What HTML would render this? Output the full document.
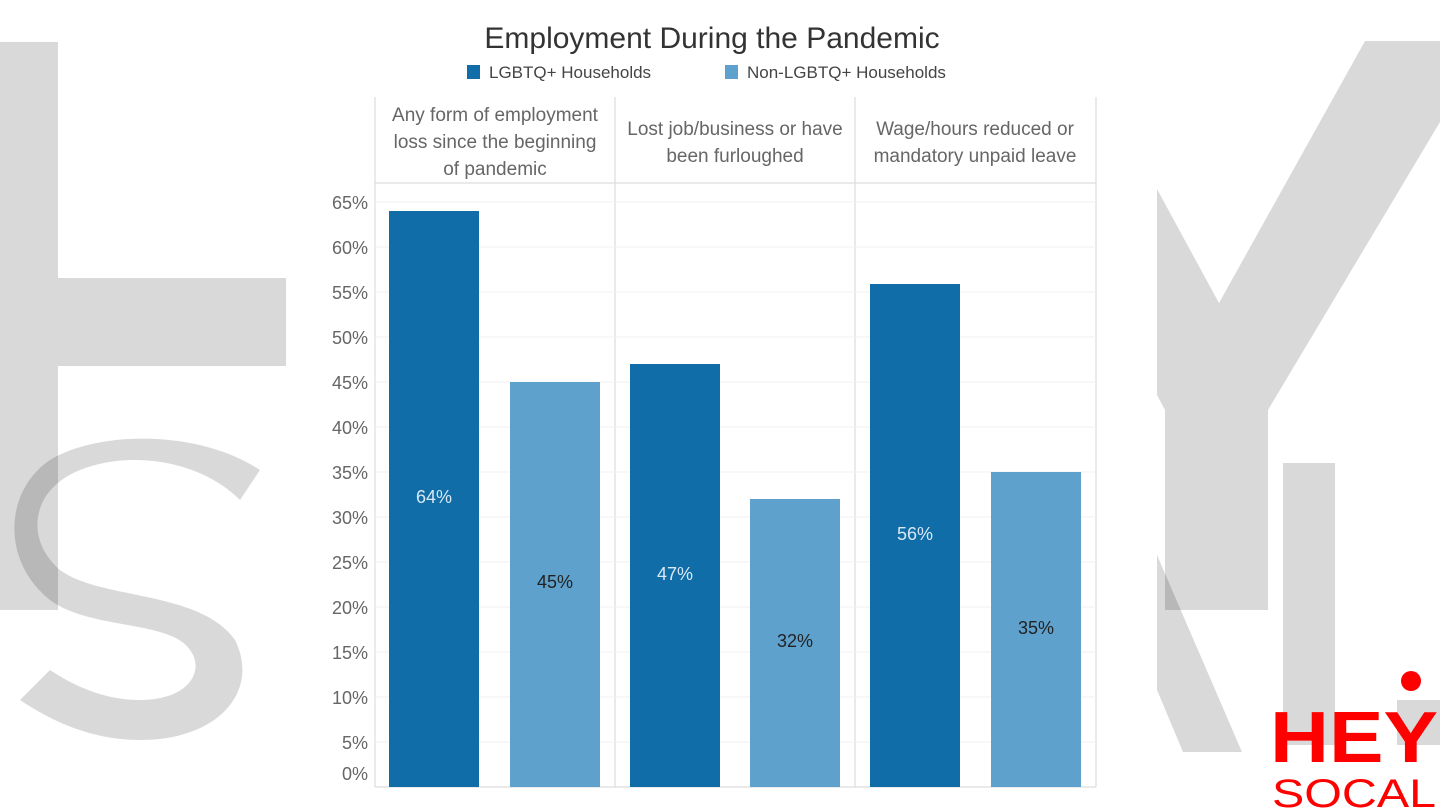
<!DOCTYPE html>
<html><head><meta charset="utf-8"><style>
html,body{margin:0;padding:0;background:#fff;}
svg{display:block;font-family:"Liberation Sans",sans-serif;}
</style></head><body>
<svg width="1440" height="810" viewBox="0 0 1440 810" xmlns="http://www.w3.org/2000/svg">
<rect width="1440" height="810" fill="#fff"/>
<!-- watermark shapes -->
<g fill="#000" fill-opacity="0.15">
<path d="M0 42 L58 42 L58 278 L288 278 L288 366 L58 366 L58 610 L0 610 Z"/>
<path d="M240 500 C200 460 130 450 80 470 C30 490 25 540 60 570 C100 600 200 590 235 640 C260 690 220 740 140 740 C90 740 50 720 20 700 L50 670 C80 690 110 700 140 700 C190 700 205 670 190 650 C170 620 90 630 50 600 C0 560 5 490 50 460 C100 430 200 430 260 470 Z"/>
<path d="M1365 41 L1440 41 L1440 122 L1268 410 L1268 610 L1165 610 L1165 410 L1157 395 L1157 189 L1219 303 Z"/>
<rect x="1283" y="463" width="52" height="282"/>
<path d="M1157 555 L1242 752 L1183 752 L1157 690 Z"/>
<rect x="1397" y="700" width="43" height="45"/>
</g>
<rect x="286" y="0" width="868" height="810" fill="#fff"/>
<!-- title & legend -->
<text x="712" y="48" font-size="30" fill="#333" text-anchor="middle">Employment During the Pandemic</text>
<rect x="467" y="65" width="13" height="14" fill="#116DA8"/>
<text x="489" y="78" font-size="17" fill="#444">LGBTQ+ Households</text>
<rect x="725" y="65" width="13" height="14" fill="#5EA1CD"/>
<text x="747" y="78" font-size="17" fill="#444">Non-LGBTQ+ Households</text>
<!-- headers -->
<g stroke="#ddd" stroke-width="1.2">
<line x1="375" y1="97" x2="375" y2="787"/>
<line x1="615" y1="97" x2="615" y2="787"/>
<line x1="855" y1="97" x2="855" y2="787"/>
<line x1="1096" y1="97" x2="1096" y2="787"/>
<line x1="375" y1="183" x2="1096" y2="183"/>
<line x1="375" y1="787" x2="1096" y2="787"/>
</g>
<g stroke="#f0f0f0" stroke-width="1">
<line x1="375" y1="202" x2="1096" y2="202"/><line x1="375" y1="247" x2="1096" y2="247"/>
<line x1="375" y1="292" x2="1096" y2="292"/><line x1="375" y1="337" x2="1096" y2="337"/>
<line x1="375" y1="382" x2="1096" y2="382"/><line x1="375" y1="427" x2="1096" y2="427"/>
<line x1="375" y1="472" x2="1096" y2="472"/><line x1="375" y1="517" x2="1096" y2="517"/>
<line x1="375" y1="562" x2="1096" y2="562"/><line x1="375" y1="607" x2="1096" y2="607"/>
<line x1="375" y1="652" x2="1096" y2="652"/><line x1="375" y1="697" x2="1096" y2="697"/>
<line x1="375" y1="742" x2="1096" y2="742"/>
</g>
<g font-size="19" fill="#666" text-anchor="middle">
<text x="495" y="121">Any form of employment</text>
<text x="495" y="148">loss since the beginning</text>
<text x="495" y="175">of pandemic</text>
<text x="735" y="135">Lost job/business or have</text>
<text x="735" y="162">been furloughed</text>
<text x="975" y="135">Wage/hours reduced or</text>
<text x="975" y="162">mandatory unpaid leave</text>
</g>
<g font-size="18" fill="#666" text-anchor="end">
<text x="368" y="209">65%</text><text x="368" y="254">60%</text><text x="368" y="299">55%</text>
<text x="368" y="344">50%</text><text x="368" y="389">45%</text><text x="368" y="434">40%</text>
<text x="368" y="479">35%</text><text x="368" y="524">30%</text><text x="368" y="569">25%</text>
<text x="368" y="614">20%</text><text x="368" y="659">15%</text><text x="368" y="704">10%</text>
<text x="368" y="749">5%</text><text x="368" y="780">0%</text>
</g>
<!-- bars -->
<rect x="389" y="211" width="90" height="576" fill="#116DA8"/>
<rect x="510" y="382" width="90" height="405" fill="#5EA1CD"/>
<rect x="630" y="364" width="90" height="423" fill="#116DA8"/>
<rect x="750" y="499" width="90" height="288" fill="#5EA1CD"/>
<rect x="870" y="284" width="90" height="503" fill="#116DA8"/>
<rect x="991" y="472" width="90" height="315" fill="#5EA1CD"/>
<g font-size="18" text-anchor="middle">
<text x="434" y="503" fill="#d8e8f4">64%</text>
<text x="555" y="588" fill="#222">45%</text>
<text x="675" y="580" fill="#d8e8f4">47%</text>
<text x="795" y="647" fill="#222">32%</text>
<text x="915" y="540" fill="#d8e8f4">56%</text>
<text x="1036" y="634" fill="#222">35%</text>
</g>
<!-- logo -->
<circle cx="1411" cy="681" r="10" fill="#f00"/>
<text x="1270" y="762" font-size="72" font-weight="bold" fill="#f00" textLength="168" lengthAdjust="spacingAndGlyphs">HEY</text>
<text x="1272" y="807" font-size="40" fill="#f00" textLength="164" lengthAdjust="spacingAndGlyphs">SOCAL</text>
</svg>
</body></html>
